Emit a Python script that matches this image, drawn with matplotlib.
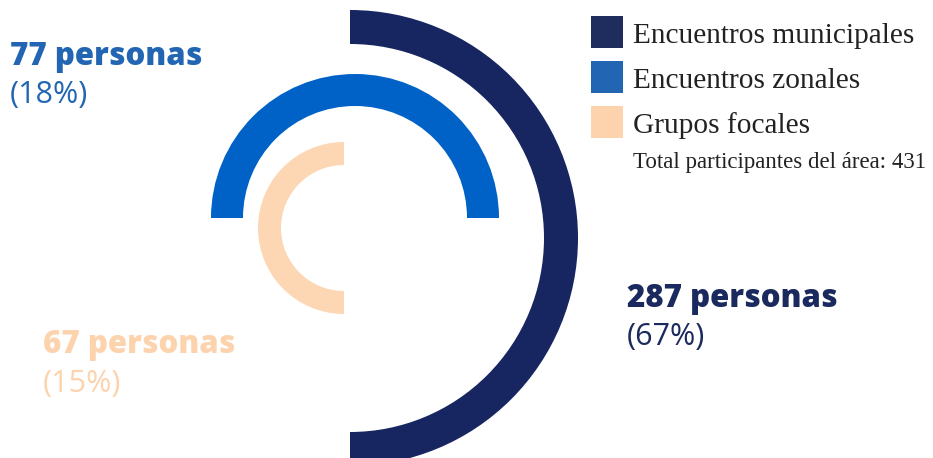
import matplotlib
import matplotlib.pyplot as plt
from matplotlib.patches import Wedge, Rectangle

matplotlib.use('Agg')

categories = ['Encuentros municipales', 'Encuentros zonales', 'Grupos focales']
personas = [287, 77, 67]
percentages = [67, 18, 15]
total = 431

arc_colors = ['#172661', '#0062C6', '#FDD7B3']
legend_colors = ['#1F2D5E', '#2266B3', '#FDD3AD']
text_colors = ['#1B2A5E', '#2266B3', '#FDD3AD']

# each arc: centre (px), outer radius, width, start angle, end angle
arcs = [((350, 238), 228, 34, -90, 90),
        ((355, 218), 144, 32, 0, 180),
        ((344, 228), 86, 23, 90, 270)]

fig = plt.figure(figsize=(9.33, 4.58), dpi=100)
ax = fig.add_axes([0, 0, 1, 1])
ax.set_xlim(0, 933)
ax.set_ylim(458, 0)
ax.axis('off')

for (c, r, w, t1, t2), col in zip(arcs, arc_colors):
    # y axis is inverted, so flip the angles
    ax.add_patch(Wedge(c, r, -t2, -t1, width=w, facecolor=col, edgecolor='none'))

# value labels
label_pos = [(627, 307, 345), (10, 65, 103), (43, 353, 392)]
for (x, y1, y2), n, p, col in zip(label_pos, personas, percentages, text_colors):
    ax.text(x, y1, f'{n} personas', family='Open Sans', weight=800,
            fontsize=22.5, color=col, va='baseline', ha='left')
    ax.text(x, y2, f'({p}%)', family='Open Sans', fontsize=22,
            color=col, va='baseline', ha='left')

# legend
leg_y = [16, 61, 106]
for y, name, col in zip(leg_y, categories, legend_colors):
    ax.add_patch(Rectangle((591, y), 32, 32, facecolor=col, edgecolor='none'))
    ax.text(633, y + 27, name, family='Liberation Serif', fontsize=21.2,
            color='#222222', va='baseline', ha='left')
ax.text(633, 168, f'Total participantes del área: {total}', family='Liberation Serif',
        fontsize=16.5, color='#222222', va='baseline', ha='left')

fig.savefig('out.png', dpi=100)
